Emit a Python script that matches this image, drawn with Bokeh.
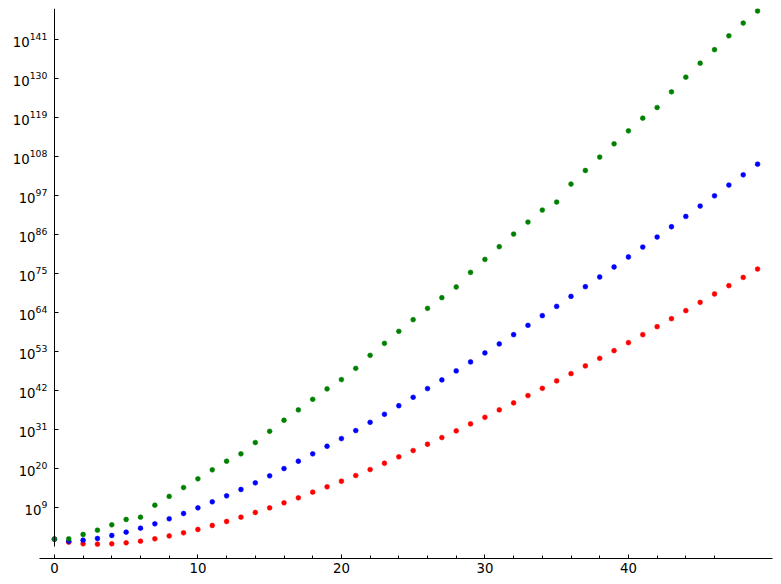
from bokeh.plotting import figure
from bokeh.models import FixedTicker, Range1d
from bokeh.embed import file_html
from bokeh.resources import INLINE

# ---- data (log10 of the plotted values) ----
x_vals = list(range(50))

red_exp = [0.0, -0.86, -1.31, -1.42, -1.31, -1.03, -0.58, 0.1, 0.9, 1.79,
           2.72, 3.85, 4.97, 6.18, 7.51, 8.83, 10.24, 11.65, 13.23, 14.75,
           16.32, 17.93, 19.62, 21.39, 23.2, 24.97, 26.75, 28.63, 30.52, 32.49,
           34.35, 36.44, 38.41, 40.46, 42.52, 44.61, 46.66, 48.83, 50.97, 53.14,
           55.39, 57.65, 59.9, 62.15, 64.41, 66.75, 69.11, 71.45, 73.79, 76.15]

blue_exp = [0.0, -0.58, -0.30, 0.18, 1.03, 1.96, 3.08, 4.32, 5.73, 7.23,
            8.83, 10.52, 12.21, 13.99, 15.87, 17.85, 19.9, 21.96, 24.04, 26.18,
            28.35, 30.61, 32.94, 35.2, 37.6, 39.99, 42.44, 44.89, 47.42, 49.96,
            52.49, 55.03, 57.65, 60.27, 63.0, 65.62, 68.44, 71.17, 73.9, 76.72,
            79.54, 82.35, 85.17, 88.07, 90.97, 93.9, 96.8, 99.82, 102.7, 105.7]

green_exp = [0.0, 0.1, 1.31, 2.52, 4.04, 5.54, 6.18, 9.56, 12.05, 14.55,
             17.0, 19.54, 21.96, 24.04, 27.23, 30.41, 33.51, 36.44, 39.42, 42.35,
             44.97, 48.15, 51.82, 55.2, 58.58, 61.87, 65.06, 68.07, 71.08, 75.2,
             78.86, 82.44, 86.0, 89.39, 92.77, 95.03, 100.1, 103.93, 107.7, 111.45,
             115.1, 118.69, 121.68, 126.1, 130.24, 134.18, 138.0, 141.9, 145.5, 148.9]

y_tick_exponents = [9, 20, 31, 42, 53, 64, 75, 86, 97, 108, 119, 130, 141]
x_major_ticks = [0, 10, 20, 30, 40]
x_minor_ticks = [2, 4, 6, 8, 12, 14, 16, 18, 22, 24, 26, 28, 32, 34, 36, 38, 42, 44, 46]

red_vals = [10.0 ** e for e in red_exp]
blue_vals = [10.0 ** e for e in blue_exp]
green_vals = [10.0 ** e for e in green_exp]

X_START, X_END = -3.477, 50.04
Y_LO, Y_HI = 10.0 ** -5.46, 10.0 ** 149.6

p = figure(frame_width=768, frame_height=550, y_axis_type="log",
           x_range=Range1d(X_START, X_END),
           y_range=Range1d(Y_LO, Y_HI),
           output_backend="svg", toolbar_location=None,
           min_border_left=4, min_border_right=1,
           min_border_top=8, min_border_bottom=0)
p.outline_line_color = None
p.grid.visible = False
p.background_fill_color = "white"

FONT = "DejaVu Sans"
FSIZE = "13.3px"

# y axis drawn at x = 0
yax = p.yaxis[0]
yax.fixed_location = 0
yax.ticker = FixedTicker(ticks=[10.0 ** e for e in y_tick_exponents])
yax.minor_tick_line_color = None
yax.major_tick_in = 4
yax.major_tick_out = 0
yax.major_label_standoff = 7
yax.axis_line_color = "black"
yax.major_tick_line_color = "black"
yax.major_label_text_font = FONT
yax.major_label_text_font_size = FSIZE
yax.major_label_text_color = "black"
yax.bounds = (10.0 ** -2.07, Y_HI)

xax = p.xaxis[0]
xax.ticker = FixedTicker(ticks=x_major_ticks, minor_ticks=x_minor_ticks)
xax.bounds = (-1.04, X_END)
xax.major_tick_in = 4
xax.major_tick_out = 0
xax.minor_tick_in = 3
xax.minor_tick_out = 0
xax.major_label_standoff = 4
xax.axis_line_color = "black"
xax.major_tick_line_color = "black"
xax.minor_tick_line_color = "black"
xax.major_label_text_font = FONT
xax.major_label_text_font_size = FSIZE
xax.major_label_text_color = "black"

p.scatter(x_vals, red_vals, size=4.8, fill_color="#ff0000", line_color="#ff0000", line_width=0.6)
p.scatter(x_vals, blue_vals, size=4.8, fill_color="#0000ff", line_color="#0000ff", line_width=0.6)
p.scatter(x_vals, green_vals, size=4.8, fill_color="#008000", line_color="#008000", line_width=0.6)

open("out.html", "w").write(file_html(p, INLINE))
